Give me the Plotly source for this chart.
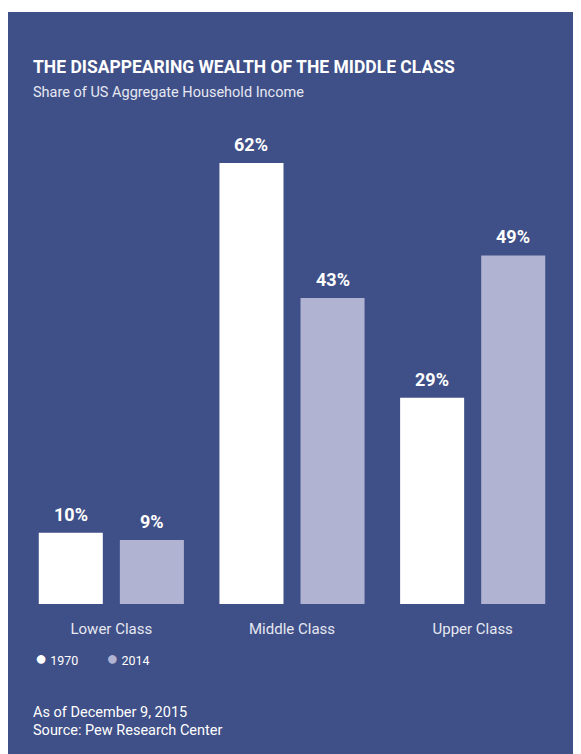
import plotly.graph_objects as go

categories = ["Lower Class", "Middle Class", "Upper Class"]
share_1970 = [10, 62, 29]
share_2014 = [9, 43, 49]
series_names = ["1970", "2014"]

BG = "#3f4f87"
C1970 = "#ffffff"
C2014 = "#b0b3d1"
FONT = "Roboto, 'Open Sans', sans-serif"

W, H = 581, 754
OFF = 8  # page offset of the figure (body margin)
L, R, T, B = 13, 26, 98, 158
pw = W - L - R
ph = H - T - B


def px_x(px):
    return (px - OFF - L) / pw


def px_y(py):
    return (H - B - (py - OFF)) / ph


fig = go.Figure()
fig.add_trace(go.Bar(x=categories, y=share_1970, name=series_names[0],
                     marker=dict(color=C1970, line=dict(width=0)), showlegend=False,
                     hoverinfo="x+y"))
fig.add_trace(go.Bar(x=categories, y=share_2014, name=series_names[1],
                     marker=dict(color=C2014, line=dict(width=0)), showlegend=False,
                     hoverinfo="x+y"))

annotations = []
slot = pw / len(categories) * (1 - 0.1025) / 2
for vals, sign in ((share_1970, -1), (share_2014, 1)):
    for c, v in zip(categories, vals):
        annotations.append(dict(x=c, y=v, xref="x", yref="y", text=f"<b>{v}%</b>",
                                showarrow=False, xshift=sign * slot / 2, yshift=6,
                                yanchor="bottom", xanchor="center",
                                font=dict(family=FONT, size=18, color="#ffffff")))

annotations += [
    dict(x=px_x(31), y=px_y(67), xref="paper", yref="paper", xanchor="left", yanchor="middle",
         text="<b>THE DISAPPEARING WEALTH OF THE MIDDLE CLASS</b>", showarrow=False,
         font=dict(family=FONT, size=17.5, color="#ffffff")),
    dict(x=px_x(31), y=px_y(92), xref="paper", yref="paper", xanchor="left", yanchor="middle",
         text="Share of US Aggregate Household Income", showarrow=False,
         font=dict(family=FONT, size=14.5, color="#e6e8f2")),
    dict(x=px_x(33), y=px_y(658), xref="paper", yref="paper", xanchor="left", yanchor="middle",
         text=(f"<span style='color:{C1970};font-size:20px'>●</span> {series_names[0]}"
               f"         <span style='color:{C2014};font-size:20px'>●</span> {series_names[1]}"),
         showarrow=False, font=dict(family=FONT, size=12.5, color="#ffffff")),
    dict(x=px_x(31), y=px_y(712), xref="paper", yref="paper", xanchor="left", yanchor="middle",
         text="As of December 9, 2015", showarrow=False,
         font=dict(family=FONT, size=14.5, color="#ffffff")),
    dict(x=px_x(31), y=px_y(730), xref="paper", yref="paper", xanchor="left", yanchor="middle",
         text="Source: Pew Research Center", showarrow=False,
         font=dict(family=FONT, size=14.5, color="#ffffff")),
]

fig.update_layout(
    width=W, height=H,
    margin=dict(l=L, r=R, t=T, b=B),
    paper_bgcolor="#ffffff",
    plot_bgcolor=BG,
    barmode="group",
    bargap=0.1025,
    bargroupgap=0.21,
    annotations=annotations,
    shapes=[dict(type="rect", xref="paper", yref="paper", layer="below",
                 x0=px_x(8), x1=px_x(600), y0=px_y(770), y1=px_y(12),
                 fillcolor=BG, line=dict(width=0))],
    xaxis=dict(showgrid=False, zeroline=False, showline=False, ticks="",
               tickfont=dict(family=FONT, size=15, color="#e6e8f2"),
               ticklabelstandoff=14, fixedrange=True),
    yaxis=dict(range=[0, 70], visible=False, fixedrange=True),
    showlegend=False,
)

fig.write_html("out.html")
